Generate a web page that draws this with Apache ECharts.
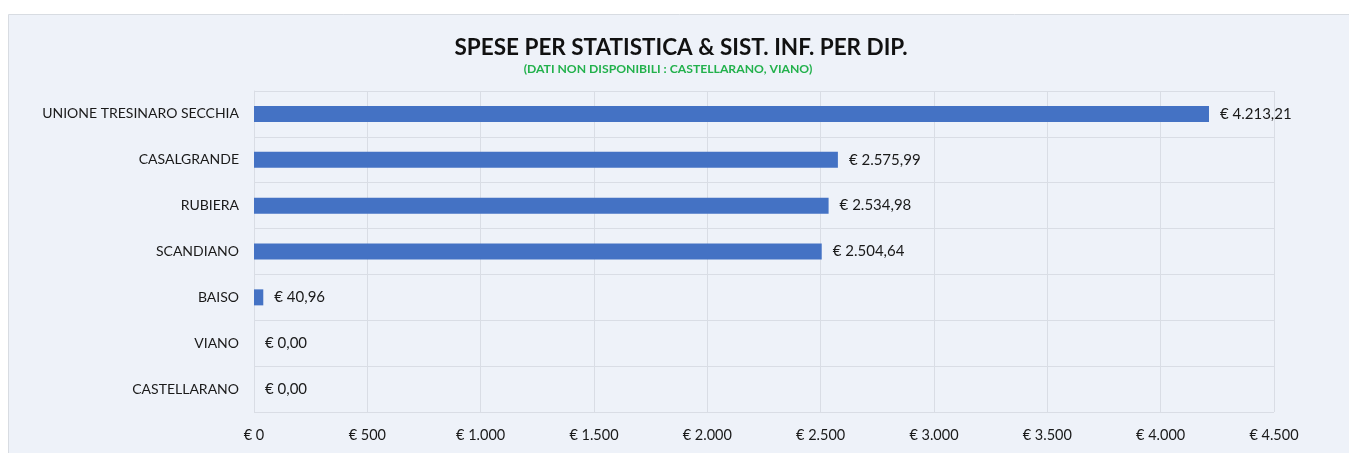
<!DOCTYPE html>
<html>
<head>
<meta charset="utf-8">
<script src="https://cdn.jsdelivr.net/npm/echarts@6/dist/echarts.min.js"></script>
<style>
  html, body { margin: 0; padding: 0; background: #ffffff; }
  #main { width: 1349px; height: 453px; }
</style>
</head>
<body>
<div id="main"></div>
<script>
// dati
var categories = ['UNIONE TRESINARO SECCHIA', 'CASALGRANDE', 'RUBIERA', 'SCANDIANO', 'BAISO', 'VIANO', 'CASTELLARANO']
var values = [4213.21, 2575.99, 2534.98, 2504.64, 40.96, 0, 0]
var titleText = 'SPESE PER STATISTICA & SIST. INF. PER DIP.'
var subText = '(DATI NON DISPONIBILI : CASTELLARANO, VIANO)'

var font = 'Lato, "Open Sans", sans-serif'

// formato italiano: punto per migliaia, virgola per decimali
function euro(v, dec) {
  var parts = v.toFixed(dec).split('.')
  var intPart = parts[0].replace(/\B(?=(\d{3})+(?!\d))/g, '.')
  return '€ ' + intPart + (dec > 0 ? ',' + parts[1] : '')
}

var chart = echarts.init(document.getElementById('main'))

chart.setOption({
  animation: false,
  backgroundColor: '#ffffff',
  graphic: [{
    type: 'rect',
    silent: true,
    z: -10,
    shape: { x: 8.5, y: 14.5, width: 1360, height: 460 },
    style: { fill: '#eef2f9', stroke: '#d8dce2', lineWidth: 1 }
  }],
  title: [{
    text: titleText,
    left: 676,
    top: 31,
    textAlign: 'center',
    textStyle: {
      fontFamily: font,
      fontSize: 22.5,
      fontWeight: 'bold',
      color: '#111111'
    }
  }, {
    text: subText,
    left: 663,
    top: 58,
    textAlign: 'center',
    textStyle: {
      fontFamily: font,
      fontSize: 12.2,
      fontWeight: 'bold',
      color: '#22b14c'
    }
  }],
  grid: {
    left: 254,
    right: 75,
    top: 91,
    bottom: 41
  },
  xAxis: {
    type: 'value',
    min: 0,
    max: 4500,
    interval: 500,
    axisLine: { show: false },
    axisTick: { show: false },
    splitLine: { lineStyle: { color: '#d9dde5', width: 1 } },
    axisLabel: {
      margin: 16,
      fontFamily: font,
      fontSize: 14.5,
      color: '#1a1a1a',
      formatter: function(v) { return euro(v, 0) }
    }
  },
  yAxis: {
    type: 'category',
    inverse: true,
    data: categories,
    axisLine: { show: true, lineStyle: { color: '#d9dde5' } },
    axisTick: { show: false },
    splitLine: { show: true, lineStyle: { color: '#d9dde5', width: 1 } },
    axisLabel: {
      margin: 15,
      fontFamily: font,
      fontSize: 14,
      color: '#1a1a1a'
    }
  },
  series: [{
    type: 'bar',
    data: values,
    barWidth: 16,
    itemStyle: { color: '#4472c4' },
    label: {
      show: true,
      position: 'right',
      distance: 11,
      fontFamily: font,
      fontSize: 15,
      color: '#1a1a1a',
      formatter: function(p) { return euro(p.value, 2) }
    }
  }]
})
</script>
</body>
</html>
